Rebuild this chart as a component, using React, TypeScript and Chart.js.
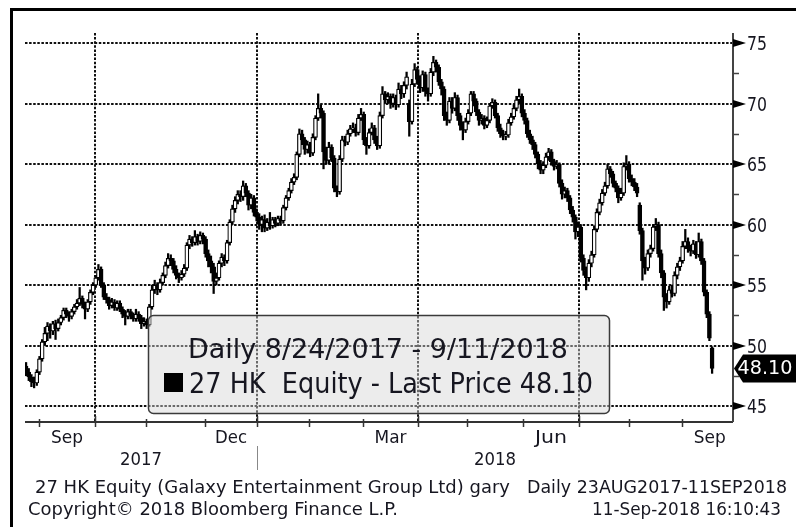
import React, { useEffect, useRef } from 'react';
import { Chart, registerables } from 'chart.js';

Chart.register(...registerables);

// Daily candles, 27 HK Equity, 24 Aug 2017 - 11 Sep 2018
const opens = [
  48.3,47.8,47.4,47.0,46.9,47.8,48.9,50.3,51.0,51.6,
  51.2,51.8,51.4,51.9,52.3,52.9,52.6,52.4,52.8,53.2,
  53.5,53.9,53.4,53.0,53.6,54.4,55.0,55.6,56.3,55.0,
  54.0,53.8,53.3,53.6,53.1,53.5,53.0,52.6,52.4,52.8,
  52.5,52.2,52.6,52.3,51.8,52.0,51.7,53.2,54.6,55.0,
  54.6,55.2,55.8,56.6,57.2,57.0,56.3,55.8,55.6,55.9,
  56.4,58.3,58.8,58.5,59.0,58.6,59.1,58.8,57.6,57.0,
  56.5,55.3,55.6,56.8,57.3,57.0,58.5,60.2,61.3,62.0,
  62.5,62.3,63.2,62.6,61.6,62.2,61.0,60.6,60.0,60.4,
  59.7,60.2,59.9,60.4,60.1,60.5,60.3,61.4,62.2,62.8,
  63.5,63.9,65.8,67.5,67.0,66.2,66.6,65.9,67.2,68.8,
  69.6,69.2,66.0,65.3,66.4,65.5,63.0,62.7,65.4,67.0,
  66.8,67.5,67.9,68.0,67.6,68.8,69.1,67.0,66.5,67.6,
  68.0,67.0,66.5,69.0,70.8,70.3,70.6,70.0,70.5,69.9,
  71.2,70.8,71.5,70.0,68.5,71.6,72.8,72.0,71.3,72.4,
  71.0,70.8,72.6,73.4,73.0,71.8,71.2,69.0,68.6,70.2,
  69.6,70.5,69.0,68.2,67.8,68.5,69.2,70.8,70.2,69.3,
  68.6,68.8,68.2,68.6,69.8,70.1,69.0,68.0,67.5,67.3,
  67.4,68.4,68.9,69.6,70.3,70.6,69.2,68.6,67.5,67.0,
  66.6,65.8,65.0,64.5,64.9,65.6,66.0,65.2,64.8,65.0,
  63.4,62.5,62.8,62.2,61.2,60.6,59.4,59.8,57.2,56.2,
  55.6,56.8,57.5,59.6,61.0,61.8,62.6,63.2,64.6,64.2,
  63.4,63.0,62.2,62.6,64.8,65.0,63.8,63.5,63.1,61.6,
  59.5,57.0,56.4,57.6,58.0,59.8,60.0,57.6,56.0,54.0,
  53.6,54.6,54.3,55.8,56.5,57.0,58.2,58.6,58.0,57.8,
  58.4,57.5,58.6,57.0,54.4,52.6,49.8,
];
const highs = [
  48.6,48.1,47.6,47.4,48.0,49.1,50.5,51.5,51.9,51.8,
  52.0,52.1,52.2,52.5,53.1,53.1,52.8,53.0,53.4,53.8,
  54.8,54.1,53.6,53.8,54.6,55.2,55.8,56.7,56.5,55.2,
  54.3,54.0,53.9,53.8,53.7,53.7,53.2,52.9,53.0,53.0,
  52.7,53.0,52.8,52.5,52.3,52.2,53.4,55.0,55.4,55.2,
  55.5,56.0,56.9,57.6,57.5,57.2,56.6,56.0,56.2,56.7,
  58.5,59.1,59.0,59.5,59.2,59.4,59.3,59.0,57.9,57.4,
  56.8,56.0,57.0,57.6,57.5,58.7,60.4,61.6,62.3,62.8,
  62.8,63.6,63.4,62.8,62.5,62.4,61.3,60.9,60.7,60.8,
  60.5,61.0,60.6,60.6,60.7,60.7,61.6,62.4,63.0,63.8,
  64.2,66.0,67.9,67.8,67.2,66.9,66.8,67.5,69.0,70.8,
  69.9,69.4,66.4,66.8,66.6,65.7,63.2,65.7,67.3,67.3,
  67.8,68.2,68.4,68.3,69.1,69.6,69.3,67.2,67.9,68.4,
  68.2,67.3,69.3,71.4,71.0,70.9,70.8,70.8,70.7,71.7,
  71.5,71.8,72.6,70.3,72.0,73.3,73.0,72.3,72.7,72.6,
  71.3,72.9,73.9,73.6,73.2,72.0,71.4,69.3,70.5,70.5,
  70.9,70.7,69.2,68.5,68.8,69.5,71.0,71.0,70.4,69.5,
  69.1,69.0,68.9,70.0,70.4,70.3,69.2,68.3,67.8,67.7,
  68.7,69.2,69.9,70.6,71.2,70.8,69.5,68.8,67.8,67.3,
  66.8,66.0,65.3,65.2,65.9,66.3,66.2,65.4,65.3,65.1,
  63.7,63.1,63.0,62.4,61.5,60.8,60.2,60.0,57.5,56.5,
  57.1,57.8,59.9,61.3,62.1,62.9,63.5,65.0,64.8,64.4,
  63.6,63.2,63.0,65.1,65.7,65.2,64.1,63.8,63.4,61.8,
  59.7,57.3,57.9,58.3,60.0,60.5,60.2,57.9,56.2,54.3,
  54.9,55.0,56.1,56.8,57.3,58.6,59.6,58.9,58.3,58.7,
  58.6,59.3,58.8,57.2,54.6,52.8,49.9,
];
const lows = [
  47.5,47.1,46.6,46.5,46.7,47.6,48.7,50.0,50.4,50.6,
  50.9,50.5,51.2,51.7,52.1,52.3,52.0,52.2,52.6,53.0,
  53.3,53.1,52.2,52.8,53.4,54.2,54.8,55.4,54.8,53.8,
  53.5,53.0,53.1,52.9,52.9,52.8,52.3,51.7,52.2,52.2,
  52.0,52.0,52.0,51.4,51.6,51.4,51.6,53.0,54.3,54.2,
  54.4,55.0,55.6,56.4,56.6,56.0,55.5,55.2,55.4,55.7,
  56.2,58.0,58.2,58.3,58.3,58.4,58.4,57.3,56.5,56.0,
  54.3,55.0,55.4,56.5,56.6,56.8,58.3,60.0,61.0,61.7,
  61.9,62.0,62.3,61.2,61.3,60.7,60.3,59.6,59.4,59.4,
  59.5,59.6,59.7,59.8,59.9,60.0,60.1,61.2,62.0,62.6,
  63.3,63.7,65.6,66.6,65.8,65.9,65.6,65.7,67.0,68.6,
  68.8,64.6,65.0,65.0,65.2,62.7,62.3,62.5,65.2,66.5,
  66.6,67.3,67.6,67.3,67.4,68.6,66.6,65.8,66.3,67.4,
  66.7,66.2,66.3,68.8,70.0,70.0,69.6,69.7,69.5,69.7,
  70.4,70.5,71.2,67.3,68.3,71.4,71.6,70.9,71.0,70.6,
  70.2,70.6,72.3,72.6,71.5,70.7,68.6,68.2,68.4,69.2,
  69.4,68.6,67.8,67.0,67.6,68.3,69.0,69.8,69.0,68.2,
  68.3,67.9,68.0,68.4,69.6,68.8,67.7,67.2,67.0,67.0,
  67.2,68.2,68.7,69.4,70.0,68.9,68.3,67.2,66.7,66.2,
  65.5,64.6,64.2,64.2,64.7,65.3,64.9,64.5,64.6,63.1,
  62.1,62.2,61.9,60.9,60.2,58.8,59.0,56.9,55.8,54.6,
  55.3,56.5,57.3,59.4,60.8,61.6,62.4,63.0,63.9,63.1,
  62.7,61.8,62.0,62.4,64.5,63.5,63.2,62.8,62.3,59.2,
  55.4,55.9,56.2,57.3,57.8,59.5,57.3,55.6,52.9,53.1,
  53.4,54.0,54.1,55.5,56.2,56.8,58.0,57.7,57.4,57.6,
  57.2,57.3,56.7,54.1,52.3,50.4,47.7,
];
const closes = [
  47.8,47.4,47.0,46.9,47.8,48.9,50.3,51.0,51.6,51.2,
  51.8,51.4,51.9,52.3,52.9,52.6,52.4,52.8,53.2,53.5,
  53.9,53.4,53.0,53.6,54.4,55.0,55.6,56.3,55.0,54.0,
  53.8,53.3,53.6,53.1,53.5,53.0,52.6,52.4,52.8,52.5,
  52.2,52.6,52.3,51.8,52.0,51.7,53.2,54.6,55.0,54.6,
  55.2,55.8,56.6,57.2,57.0,56.3,55.8,55.6,55.9,56.4,
  58.3,58.8,58.5,59.0,58.6,59.1,58.8,57.6,57.0,56.5,
  55.3,55.6,56.8,57.3,57.0,58.5,60.2,61.3,62.0,62.5,
  62.3,63.2,62.6,61.6,62.2,61.0,60.6,60.0,60.4,59.7,
  60.2,59.9,60.4,60.1,60.5,60.3,61.4,62.2,62.8,63.5,
  63.9,65.8,67.5,67.0,66.2,66.6,65.9,67.2,68.8,69.6,
  69.2,66.0,65.3,66.4,65.5,63.0,62.7,65.4,67.0,66.8,
  67.5,67.9,68.0,67.6,68.8,69.1,67.0,66.5,67.6,68.0,
  67.0,66.5,69.0,70.8,70.3,70.6,70.0,70.5,69.9,71.2,
  70.8,71.5,72.2,68.5,71.6,72.8,72.0,71.3,72.4,71.0,
  70.8,72.6,73.4,73.0,71.8,71.2,69.0,68.6,70.2,69.6,
  70.5,69.0,68.2,67.8,68.5,69.2,70.8,70.2,69.3,68.6,
  68.8,68.2,68.6,69.8,70.1,69.0,68.0,67.5,67.3,67.4,
  68.4,68.9,69.6,70.3,70.6,69.2,68.6,67.5,67.0,66.6,
  65.8,65.0,64.5,64.9,65.6,66.0,65.2,64.8,65.0,63.4,
  62.5,62.8,62.2,61.2,60.6,59.4,59.8,57.2,56.2,55.6,
  56.8,57.5,59.6,61.0,61.8,62.6,63.2,64.6,64.2,63.4,
  63.0,62.2,62.6,64.8,65.0,63.8,63.5,63.1,62.6,59.5,
  57.0,56.4,57.6,58.0,59.8,60.0,57.6,56.0,54.0,53.6,
  54.6,54.3,55.8,56.5,57.0,58.2,58.6,58.0,57.8,58.4,
  57.5,58.6,57.0,54.4,52.6,50.6,48.1,
];

// trading-session position of the first session of each month, Sep 2017 .. Oct 2018
const monthStarts = [4.9, 25.7, 44.8, 66.8, 86.2, 105.6, 125.7, 146.3, 164.6, 185.4, 206.3, 225.0, 244.8, 265.5];
const quarterStarts = [25.7, 86.2, 146.3, 206.3];
const monthLabels = ['Sep', 'Dec', 'Mar', 'Jun', 'Sep'];
const monthLabelSlots = [0, 3, 6, 9, 12];
const yearLabels = ['2017', '2018'];
const yearBreak = 86.2;
const yTicks = [45, 50, 55, 60, 65, 70, 75];
const yMinorTicks = [47.5, 52.5, 57.5, 62.5, 67.5, 72.5];
const lastPrice = 48.1;
const X_MIN = -0.4;
const X_MAX = 263.8;
const Y_MIN = 43.68;
const Y_MAX = 75.83;

const legendTitle = 'Daily 8/24/2017 - 9/11/2018';
const legendSeries = '27 HK  Equity - Last Price 48.10';
const footer1Left = '27 HK Equity (Galaxy Entertainment Group Ltd) gary';
const footer1Right = 'Daily 23AUG2017-11SEP2018';
const footer2Left = 'Copyright\u00A9 2018 Bloomberg Finance L.P.';
const footer2Right = '11-Sep-2018 16:10:43';

const FONT = '"DejaVu Sans", "Liberation Sans", sans-serif';
const TXT = '#161620';

function drawText(
  ctx: CanvasRenderingContext2D, s: string, x: number, y: number, size: number,
  width: number, align: CanvasTextAlign, color: string, baseline: CanvasTextBaseline = 'alphabetic'
) {
  ctx.save();
  ctx.font = `${size}px ${FONT}`;
  const w = ctx.measureText(s).width;
  const sx = width > 0 ? width / w : 1;
  ctx.translate(x, y);
  ctx.scale(sx, 1);
  ctx.textAlign = align;
  ctx.textBaseline = baseline;
  ctx.fillStyle = color;
  ctx.fillText(s, 0, 0);
  ctx.restore();
}

const bloombergPlugin = {
  id: 'bloomberg',
  beforeDraw(chart: any) {
    const { ctx } = chart;
    ctx.save();
    ctx.fillStyle = '#fff';
    ctx.fillRect(0, 0, chart.width, chart.height);
    ctx.restore();
  },
  beforeDatasetsDraw(chart: any) {
    const { ctx, chartArea: a, scales } = chart;
    const x = scales.x, y = scales.y;
    ctx.save();
    ctx.strokeStyle = '#111';
    ctx.lineWidth = 2;
    ctx.setLineDash([2.5, 1.6]);
    for (const v of yTicks) {
      const py = Math.round(y.getPixelForValue(v));
      ctx.beginPath(); ctx.moveTo(a.left, py); ctx.lineTo(a.right, py); ctx.stroke();
    }
    for (const v of quarterStarts) {
      const px = Math.round(x.getPixelForValue(v));
      ctx.beginPath(); ctx.moveTo(px, a.top); ctx.lineTo(px, a.bottom); ctx.stroke();
    }
    ctx.restore();
  },
  afterDatasetsDraw(chart: any) {
    const { ctx, chartArea: a, scales } = chart;
    const x = scales.x, y = scales.y;
    ctx.save();

    // frame
    ctx.fillStyle = '#000';
    ctx.fillRect(10, 8, 786, 3);
    ctx.fillRect(10, 8, 3, 519);

    // legend box
    ctx.beginPath();
    (ctx as any).roundRect(148.5, 315.5, 461, 98, 5);
    ctx.fillStyle = 'rgba(212,212,212,0.45)';
    ctx.fill();
    ctx.strokeStyle = '#3a3a3a';
    ctx.lineWidth = 1.5;
    ctx.stroke();
    drawText(ctx, legendTitle, 188, 358, 27, 380, 'left', TXT);
    ctx.fillStyle = '#000';
    ctx.fillRect(164, 373, 19, 19);
    drawText(ctx, legendSeries, 189, 393, 28, 404, 'left', TXT);

    // x axis
    const by = a.bottom;
    ctx.strokeStyle = '#333';
    ctx.lineWidth = 2;
    ctx.beginPath(); ctx.moveTo(a.left, by); ctx.lineTo(a.right, by); ctx.stroke();
    ctx.lineWidth = 1.5;
    for (const v of monthStarts) {
      if (v <= X_MIN || v >= X_MAX) continue;
      const px = Math.round(x.getPixelForValue(v)) + 0.5;
      const isQ = quarterStarts.includes(v);
      ctx.beginPath(); ctx.moveTo(px, isQ ? by - 6 : by - 3); ctx.lineTo(px, by + 5); ctx.stroke();
    }
    monthLabels.forEach((lab, k) => {
      const s = monthStarts[monthLabelSlots[k]];
      const e = monthStarts[monthLabelSlots[k] + 1];
      const cx = x.getPixelForValue((s + e) / 2);
      drawText(ctx, lab, cx, 443, 17, 32, 'center', TXT);
    });
    const yb = x.getPixelForValue(yearBreak);
    drawText(ctx, yearLabels[0], (a.left + yb) / 2, 465, 17, 42, 'center', TXT);
    drawText(ctx, yearLabels[1], (yb + a.right) / 2, 465, 17, 42, 'center', TXT);
    ctx.strokeStyle = '#888';
    ctx.lineWidth = 1;
    ctx.beginPath(); ctx.moveTo(Math.round(yb) + 0.5, 446); ctx.lineTo(Math.round(yb) + 0.5, 470); ctx.stroke();

    // right axis
    ctx.strokeStyle = '#444';
    ctx.lineWidth = 2;
    ctx.beginPath(); ctx.moveTo(a.right, a.top); ctx.lineTo(a.right, by); ctx.stroke();
    ctx.lineWidth = 1.5;
    for (const v of yMinorTicks) {
      const py = Math.round(y.getPixelForValue(v)) + 0.5;
      ctx.beginPath(); ctx.moveTo(a.right, py); ctx.lineTo(a.right + 6, py); ctx.stroke();
    }
    ctx.fillStyle = '#000';
    for (const v of yTicks) {
      const py = Math.round(y.getPixelForValue(v));
      ctx.beginPath();
      ctx.moveTo(a.right, py - 4);
      ctx.lineTo(a.right + 13, py);
      ctx.lineTo(a.right, py + 4);
      ctx.closePath();
      ctx.fill();
      drawText(ctx, String(v), a.right + 14, py + 2, 20, 20, 'left', TXT, 'middle');
    }

    // last price tag
    const lp = y.getPixelForValue(lastPrice);
    ctx.fillStyle = '#000';
    ctx.beginPath();
    ctx.moveTo(a.right + 1, lp);
    ctx.lineTo(a.right + 10, lp - 14);
    ctx.lineTo(796, lp - 14);
    ctx.lineTo(796, lp + 14);
    ctx.lineTo(a.right + 10, lp + 14);
    ctx.closePath();
    ctx.fill();
    drawText(ctx, lastPrice.toFixed(2), 765, lp + 1, 19, 55, 'center', '#fff', 'middle');

    // footer
    drawText(ctx, footer1Left, 35, 493, 18, 475, 'left', TXT);
    drawText(ctx, footer1Right, 787, 493, 18, 260, 'right', TXT);
    drawText(ctx, footer2Left, 28, 515, 18, 370, 'left', TXT);
    drawText(ctx, footer2Right, 781, 515, 18, 189, 'right', TXT);

    ctx.restore();
  },
};

export default function App() {
  const ref = useRef<HTMLCanvasElement | null>(null);
  useEffect(() => {
    if (!ref.current) return;
    const idx = closes.map((_, i) => i);
    const chart = new Chart(ref.current, {
      type: 'bar',
      data: {
        datasets: [
          {
            data: idx.map((i) => ({ x: i, y: [lows[i], highs[i]] })) as any,
            backgroundColor: '#000',
            borderWidth: 0,
            barThickness: 1.6,
            grouped: false,
            order: 2,
          } as any,
          {
            data: idx.map((i) => ({ x: i, y: [opens[i], closes[i]] })) as any,
            backgroundColor: idx.map((i) => (closes[i] >= opens[i] ? '#fff' : '#000')),
            borderColor: '#000',
            borderWidth: 1.2,
            borderSkipped: false,
            barThickness: 4,
            grouped: false,
            order: 1,
          } as any,
        ],
      },
      options: {
        animation: false,
        responsive: false,
        devicePixelRatio: 1,
        events: [],
        layout: { padding: { left: 25, top: 33, right: 63, bottom: 105 } },
        plugins: { legend: { display: false }, tooltip: { enabled: false } },
        scales: {
          x: { type: 'linear', display: false, min: X_MIN, max: X_MAX, offset: false },
          y: { type: 'linear', display: false, min: Y_MIN, max: Y_MAX },
        },
      },
      plugins: [bloombergPlugin],
    });
    return () => chart.destroy();
  }, []);
  return (
    <div style={{ position: 'absolute', left: 0, top: 0, width: 796, height: 527, background: '#fff' }}>
      <canvas ref={ref} width={796} height={527} style={{ display: 'block' }} />
    </div>
  );
}
